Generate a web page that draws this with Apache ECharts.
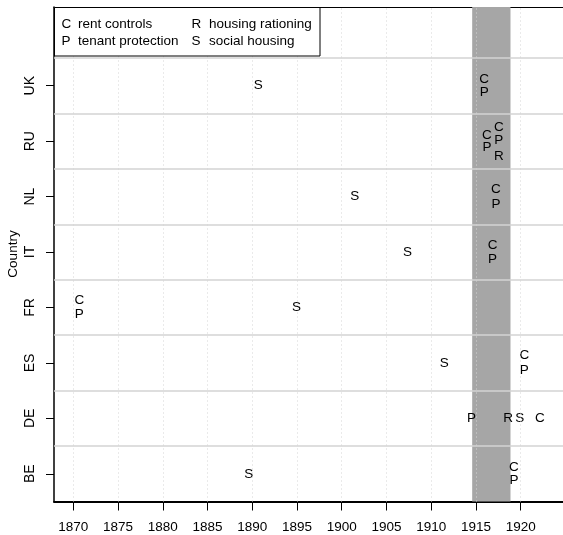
<!DOCTYPE html>
<html>
<head>
<meta charset="utf-8">
<script src="https://cdn.jsdelivr.net/npm/echarts@6/dist/echarts.min.js"></script>
<style>html,body{margin:0;padding:0;background:#fff;}#chart{width:563px;height:535px;}</style>
</head>
<body>
<div id="chart"></div>
<script>
// ---- data ----
const countries = ['BE', 'DE', 'ES', 'FR', 'IT', 'NL', 'RU', 'UK'];
const yearTicks = [1870, 1875, 1880, 1885, 1890, 1895, 1900, 1905, 1910, 1915, 1920];
const warStart = 1914.58;
const warEnd = 1918.86;
const yTitle = 'Country';
const legendKeys = ['C', 'P', 'R', 'S'];
const legendLabels = ['rent controls', 'tenant protection', 'housing rationing', 'social housing'];

const markLetters   = ['S', 'C', 'P',
                       'C', 'P', 'C', 'P', 'R',
                       'S', 'C', 'P',
                       'S', 'C', 'P',
                       'C', 'P', 'S',
                       'S', 'C', 'P',
                       'P', 'R', 'S', 'C',
                       'S', 'C', 'P'];
const markCountries = ['UK', 'UK', 'UK',
                       'RU', 'RU', 'RU', 'RU', 'RU',
                       'NL', 'NL', 'NL',
                       'IT', 'IT', 'IT',
                       'FR', 'FR', 'FR',
                       'ES', 'ES', 'ES',
                       'DE', 'DE', 'DE', 'DE',
                       'BE', 'BE', 'BE'];
const markYears     = [1890.66, 1915.92, 1915.92,
                       1916.23, 1916.23, 1917.56, 1917.56, 1917.56,
                       1901.46, 1917.23, 1917.23,
                       1907.35, 1916.86, 1916.86,
                       1870.67, 1870.67, 1894.95,
                       1911.45, 1920.4, 1920.4,
                       1914.51, 1918.6, 1919.91, 1922.15,
                       1889.62, 1919.24, 1919.24];
const markShifts    = [0, 0.12, -0.12,
                       0.10, -0.11, 0.245, 0.02, -0.27,
                       0, 0.13, -0.13,
                       0, 0.13, -0.13,
                       0.13, -0.13, 0,
                       0, 0.13, -0.13,
                       0, 0, 0, 0,
                       0, 0.125, -0.12];

// ---- chart ----
const FONT = '"Liberation Sans", Arial, Helvetica, sans-serif';
const FS = 13.5;
const chart = echarts.init(document.getElementById('chart'), null, {renderer: 'canvas'});

const countryIdx = countries.map((c, i) => i + 1);
const separators = countries.map((c, i) => i + 1.5);
const markData = markYears.map((yr, i) => [yr, countries.indexOf(markCountries[i]) + 1 + markShifts[i]]);

const txt = (s, x, y) => ({type: 'text', z: 101, x: x, y: y,
  style: {text: s, align: 'left', verticalAlign: 'middle', fill: '#000', fontSize: FS, fontFamily: FONT}});

const option = {
  backgroundColor: '#ffffff',
  animation: false,
  grid: {left: 54, right: 0, top: 7, bottom: 33.5, containLabel: false, outerBoundsMode: 'none'},
  xAxis: [{
    type: 'value', min: 1867.84, max: 1924.73, position: 'bottom',
    axisLine: {show: true, onZero: false, lineStyle: {color: '#000', width: 2}},
    axisTick: {show: true, length: 9, customValues: yearTicks, lineStyle: {color: '#000', width: 1}},
    axisLabel: {show: true, customValues: yearTicks, margin: 19, color: '#000', fontSize: FS, fontFamily: FONT,
                formatter: v => String(v)},
    splitLine: {show: false}
  }, {
    type: 'value', min: 1867.84, max: 1924.73, position: 'top',
    axisLine: {show: true, onZero: false, lineStyle: {color: '#000', width: 1}},
    axisTick: {show: false}, axisLabel: {show: false}, splitLine: {show: false}
  }],
  yAxis: {
    type: 'value', min: 0.5, max: 9.42,
    axisLine: {show: true, onZero: false, lineStyle: {color: '#000', width: 1.5}},
    axisTick: {show: true, length: 8, customValues: countryIdx, lineStyle: {color: '#000', width: 1}},
    axisLabel: {show: true, customValues: countryIdx, rotate: 90, margin: 17, color: '#000', fontSize: 14, fontFamily: FONT,
                formatter: v => countries[Math.round(v) - 1] || ''},
    splitLine: {show: false}
  },
  series: [
    {
      type: 'line', data: [], z: 1, silent: true,
      markLine: {
        silent: true, symbol: ['none', 'none'], animation: false,
        label: {show: false},
        lineStyle: {type: [1, 3], color: '#d4d4d4', width: 1},
        data: yearTicks.map(y => ({xAxis: y}))
      }
    },
    {
      type: 'line', data: [], z: 2, silent: true,
      markArea: {
        silent: true, animation: false,
        itemStyle: {color: '#a6a6a6', opacity: 1},
        data: [[{xAxis: warStart}, {xAxis: warEnd}]]
      }
    },
    {
      type: 'line', data: [], z: 3, silent: true,
      markLine: {
        silent: true, symbol: ['none', 'none'], animation: false,
        label: {show: false},
        lineStyle: {type: 'solid', color: '#d3d3d3', width: 1.5},
        data: separators.map(y => ({yAxis: y}))
      }
    },
    {
      type: 'custom', z: 4, silent: true,
      data: markData,
      encode: {x: 0, y: 1},
      renderItem: function (params, api) {
        const p = api.coord([api.value(0), api.value(1)]);
        return {
          type: 'text', x: p[0], y: p[1],
          style: {text: markLetters[params.dataIndex], align: 'center', verticalAlign: 'middle',
                  fill: '#000', fontSize: FS, fontFamily: FONT}
        };
      }
    }
  ],
  graphic: [
    {type: 'text', z: 101, x: 13, y: 254, rotation: Math.PI / 2,
     style: {text: yTitle, align: 'center', verticalAlign: 'middle', fill: '#000', fontSize: FS, fontFamily: FONT}},
    {type: 'rect', z: 100, shape: {x: 54.5, y: 7.5, width: 265.5, height: 48.5},
     style: {fill: '#fff', stroke: '#000', lineWidth: 1}},
    txt(legendKeys[0], 61.5, 24.5), txt(legendLabels[0], 78, 24.5),
    txt(legendKeys[1], 61.5, 41.5), txt(legendLabels[1], 78, 41.5),
    txt(legendKeys[2], 191.5, 24.5), txt(legendLabels[2], 209, 24.5),
    txt(legendKeys[3], 191.5, 41.5), txt(legendLabels[3], 209, 41.5)
  ]
};
chart.setOption(option);
</script>
</body>
</html>
